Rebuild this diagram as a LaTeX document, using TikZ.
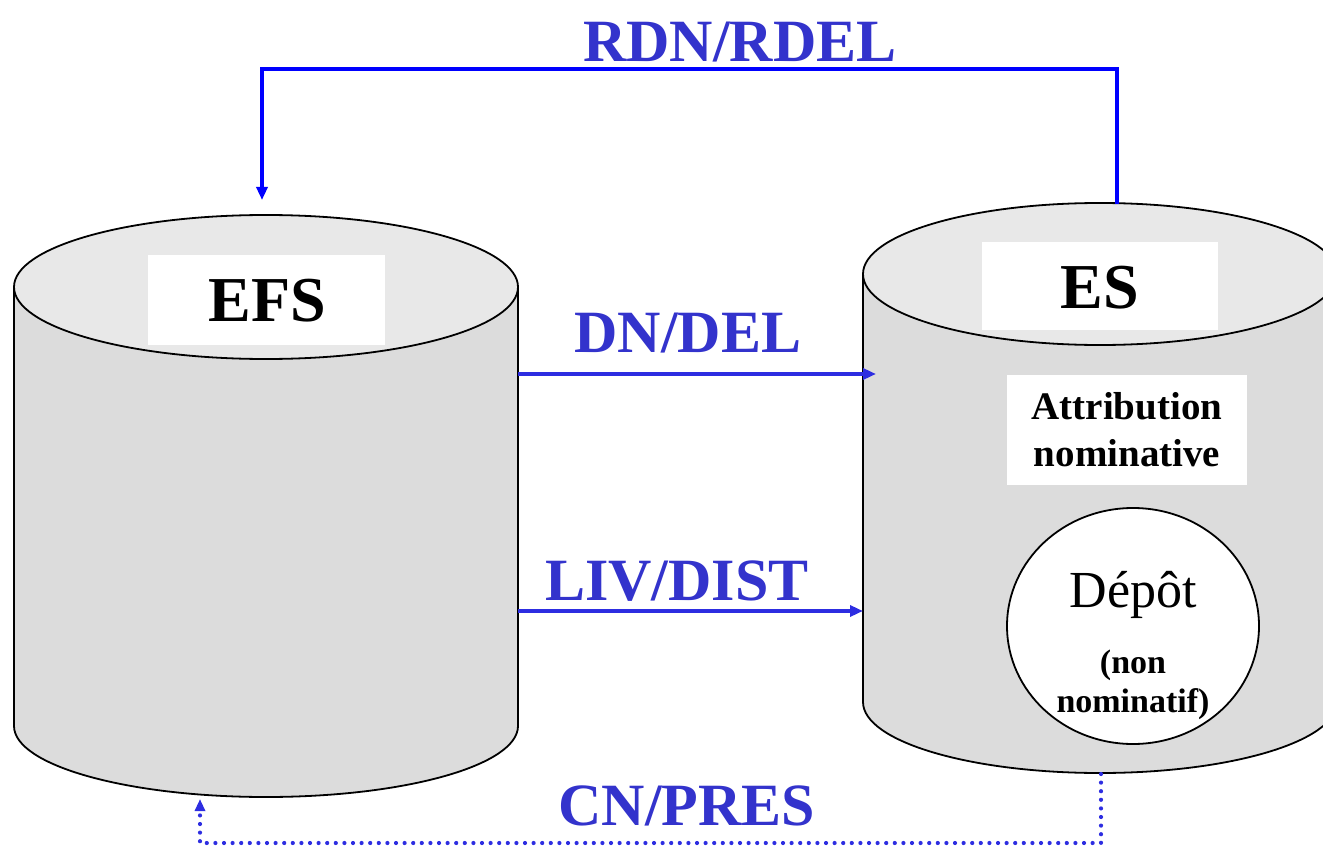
\documentclass[tikz,border=0pt]{standalone}
\usepackage{fontspec}
\setmainfont{Liberation Serif}
\usetikzlibrary{arrows.meta}
\definecolor{textblue}{RGB}{51,51,204}
\definecolor{lineblue}{RGB}{0,0,255}
\definecolor{arrblue}{RGB}{45,45,225}
\definecolor{bodygray}{RGB}{220,220,220}
\definecolor{topgray}{RGB}{232,232,232}
\tikzset{
  bluelabel/.style={text=textblue,font=\fontsize{60}{70}\selectfont\bfseries,inner sep=0pt,anchor=base},
  title/.style={font=\fontsize{64}{72}\selectfont\bfseries,inner sep=0pt,anchor=base},
  whitebox/.style={fill=white,draw=none},
  cyl/.style={draw=black,line width=1.8pt},
  flow/.style={draw=arrblue,line width=3.4pt,-{Triangle[length=13pt,width=11pt]}},
  frame/.style={draw=lineblue,line width=3.2pt},
  dotline/.style={draw=arrblue,line width=4.2pt,line cap=round,dash pattern=on 0pt off 8.6pt},
}
\begin{document}
\begin{tikzpicture}[x=1pt,y=-1pt]
\useasboundingbox (0,0) rectangle (1323,848);
\begin{scope}
\clip (0,0) rectangle (1323,848);
% left cylinder EFS
\fill[bodygray] (518,287) -- (518,726) arc[start angle=0,end angle=-180,x radius=252pt,y radius=71pt] -- (14,287) -- cycle;
\draw[cyl] (518,287) -- (518,726) arc[start angle=0,end angle=-180,x radius=252pt,y radius=71pt] -- (14,287);
\draw[cyl,fill=topgray] (266,287) ellipse [x radius=252pt,y radius=72pt];
% right cylinder ES
\fill[bodygray] (1337,274) -- (1337,702) arc[start angle=0,end angle=-180,x radius=237pt,y radius=71pt] -- (863,274) -- cycle;
\draw[cyl] (1337,274) -- (1337,702) arc[start angle=0,end angle=-180,x radius=237pt,y radius=71pt] -- (863,274);
\draw[cyl,fill=topgray] (1100,274) ellipse [x radius=237pt,y radius=71pt];
\end{scope}

% boxes and texts
\fill[whitebox] (148,255) rectangle (385,345);
\node[title] (efs) at (267,321) {EFS};
\fill[whitebox] (982,242) rectangle (1218,330);
\node[title] (es) at (1100,308) {ES};
\fill[whitebox] (1007,375) rectangle (1247,485);
\node[font=\fontsize{39}{47}\selectfont\bfseries,inner sep=0pt,anchor=base] (attr1) at (1127,419) {Attribution};
\node[font=\fontsize{39}{47}\selectfont\bfseries,inner sep=0pt,anchor=base] (attr2) at (1127,466) {nominative};
\draw[black,line width=1.8pt,fill=white] (1133,626) ellipse [x radius=126pt,y radius=118pt];
\node[font=\fontsize{52}{60}\selectfont,inner sep=0pt,anchor=base] (depot) at (1133,607) {Dépôt};
\node[font=\fontsize{34}{40}\selectfont\bfseries,inner sep=0pt,anchor=base] (non1) at (1133,673) {(non};
\node[font=\fontsize{34}{40}\selectfont\bfseries,inner sep=0pt,anchor=base] (non2) at (1133,712) {nominatif)};

% connector coordinates
\coordinate (efsTop) at (262,200);
\coordinate (esTop) at (1117,204);
\coordinate (tl) at (262,69);
\coordinate (tr) at (1117,69);
\coordinate (efsR1) at (518,374);
\coordinate (esL1) at (876,374);
\coordinate (efsR2) at (518,611);
\coordinate (esL2) at (863,611);
\coordinate (esBot) at (1101,774);
\coordinate (br) at (1101,843);
\coordinate (bl) at (200,843);
\coordinate (efsBot) at (200,799);

% RDN/RDEL frame
\draw[frame] (esTop) -- (tr);
\draw[draw=lineblue,line width=4.2pt] ([xshift=-1.6pt]tl) -- ([xshift=1.6pt]tr);
\draw[frame,-{Triangle[length=13pt,width=11pt]}] ([yshift=-1pt]tl) -- (efsTop);
\node[bluelabel] (rdn) at (740,62) {RDN/RDEL};

% DN/DEL and LIV/DIST
\draw[flow] (efsR1) -- (esL1);
\node[bluelabel] (dn) at (688,352) {DN/DEL};
\draw[flow] (efsR2) -- (esL2);
\node[bluelabel] (liv) at (677,600) {LIV/DIST};

% CN/PRES
\draw[dotline,-{Triangle[length=12pt,width=10pt]}] (esBot) -- (br) -- (bl) -- (efsBot);
\node[bluelabel] (cn) at (687,825) {CN/PRES};
\end{tikzpicture}
\end{document}
